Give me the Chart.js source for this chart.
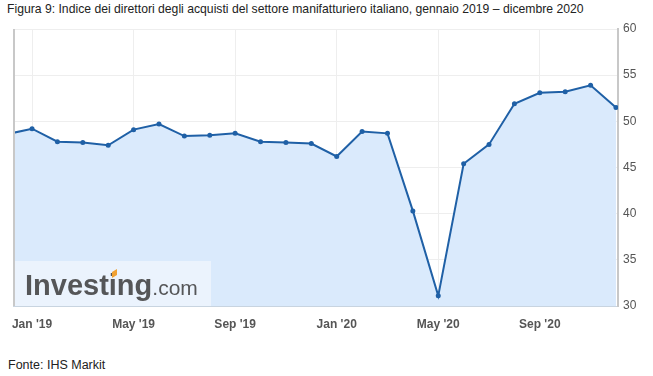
<!DOCTYPE html>
<html>
<head>
<meta charset="utf-8">
<script src="https://cdn.jsdelivr.net/npm/chart.js@4.4.1/dist/chart.umd.min.js"></script>
<style>
  html,body{margin:0;padding:0;background:#fff;}
  body{width:653px;height:376px;position:relative;overflow:hidden;font-family:"Liberation Sans",Arial,sans-serif;}
  #title{position:absolute;left:7px;top:2px;font-size:12.2px;color:#222;white-space:nowrap;}
  #source{position:absolute;left:8px;top:358px;font-size:12.5px;color:#222;white-space:nowrap;}
  #wrap{position:absolute;left:0;top:0;width:653px;height:340px;}
</style>
</head>
<body>
<div id="title">Figura 9: Indice dei direttori degli acquisti del settore manifatturiero italiano, gennaio 2019 – dicembre 2020</div>
<div id="wrap"><canvas id="c"></canvas></div>
<div id="source">Fonte: IHS Markit</div>
<script>
// Release months (Dec 2018 .. Dec 2020), one value per release
const months = ["Dec '18","Jan '19","Feb '19","Mar '19","Apr '19","May '19","Jun '19","Jul '19","Aug '19","Sep '19","Oct '19","Nov '19","Dec '19","Jan '20","Feb '20","Mar '20","Apr '20","May '20","Jun '20","Jul '20","Aug '20","Sep '20","Oct '20","Nov '20","Dec '20"];
const pmi = [48.6,49.2,47.8,47.7,47.4,49.1,49.7,48.4,48.5,48.7,47.8,47.7,47.6,46.2,48.9,48.7,40.3,31.1,45.4,47.5,51.9,53.1,53.2,53.9,51.5];
const xTickIdx = [1,5,9,13,17,21];
const yTicks = [30,35,40,45,50,55,60];

const pts = pmi.map((v,i)=>({x:i,y:v}));

const deco = {
  id:'deco',
  afterDatasetsDraw(chart){
    const {ctx, chartArea:a} = chart;
    ctx.save();
    // watermark box
    ctx.fillStyle='rgba(255,255,255,0.45)';
    ctx.fillRect(a.left+1, 261, 197, a.bottom-261);
    ctx.fillStyle='#555658';
    ctx.font='bold 29px "Liberation Sans", Arial, sans-serif';
    ctx.textBaseline='alphabetic';
    ctx.fillText('Investing', 25, 295);
    const w = ctx.measureText('Investing').width;
    ctx.font='21px "Liberation Sans", Arial, sans-serif';
    ctx.fillText('.com', 25+w, 295);
    ctx.fillStyle='#f0a132';
    ctx.beginPath();
    ctx.moveTo(112,272);ctx.lineTo(117,269);ctx.lineTo(117,275);ctx.lineTo(112,278);ctx.closePath();
    ctx.fill();
    // left border
    ctx.strokeStyle='#c8c8c8';
    ctx.lineWidth=2;
    ctx.beginPath();
    ctx.moveTo(a.left+1, a.top); ctx.lineTo(a.left+1, a.bottom);
    ctx.stroke();
    ctx.restore();
  }
};

new Chart(document.getElementById('c'), {
  type:'line',
  data:{datasets:[{
    data:pts,
    borderColor:'#1f60a6',
    borderWidth:2,
    backgroundColor:'#daeafc',
    fill:'start',
    pointRadius:2.5,
    pointBackgroundColor:'#1f60a6',
    pointBorderColor:'#1f60a6',
    pointBorderWidth:0,
    tension:0
  }]},
  options:{
    responsive:true,
    maintainAspectRatio:false,
    animation:false,
    layout:{padding:{left:13,top:29,right:0,bottom:0}},
    plugins:{legend:{display:false},tooltip:{enabled:false}},
    scales:{
      x:{
        type:'linear',
        min:0.25,
        max:24.08,
        afterBuildTicks(s){ s.ticks = xTickIdx.map(v=>({value:v})); },
        afterFit(s){ s.height = 34; },
        grid:{color:'#eeeeee',lineWidth:1,drawTicks:false},
        border:{display:true,color:'#c8d4e0',width:1},
        ticks:{
          padding:11,
          color:'#555',
          font:{family:'"Liberation Sans", Arial, sans-serif',size:12,weight:'bold'},
          maxRotation:0,
          callback:(v)=>months[v]
        }
      },
      y:{
        position:'right',
        min:30,max:60,
        afterBuildTicks(s){ s.ticks = yTicks.map(v=>({value:v})); },
        afterFit(s){ s.width = 35; },
        grid:{color:'#eeeeee',lineWidth:1,drawTicks:false},
        border:{display:true,color:'#c8c8c8',width:2},
        ticks:{
          padding:5,
          color:'#555',
          font:{family:'"Liberation Sans", Arial, sans-serif',size:12},
          callback:(v)=>String(v)
        }
      }
    }
  },
  plugins:[deco]
});
</script>
</body>
</html>
